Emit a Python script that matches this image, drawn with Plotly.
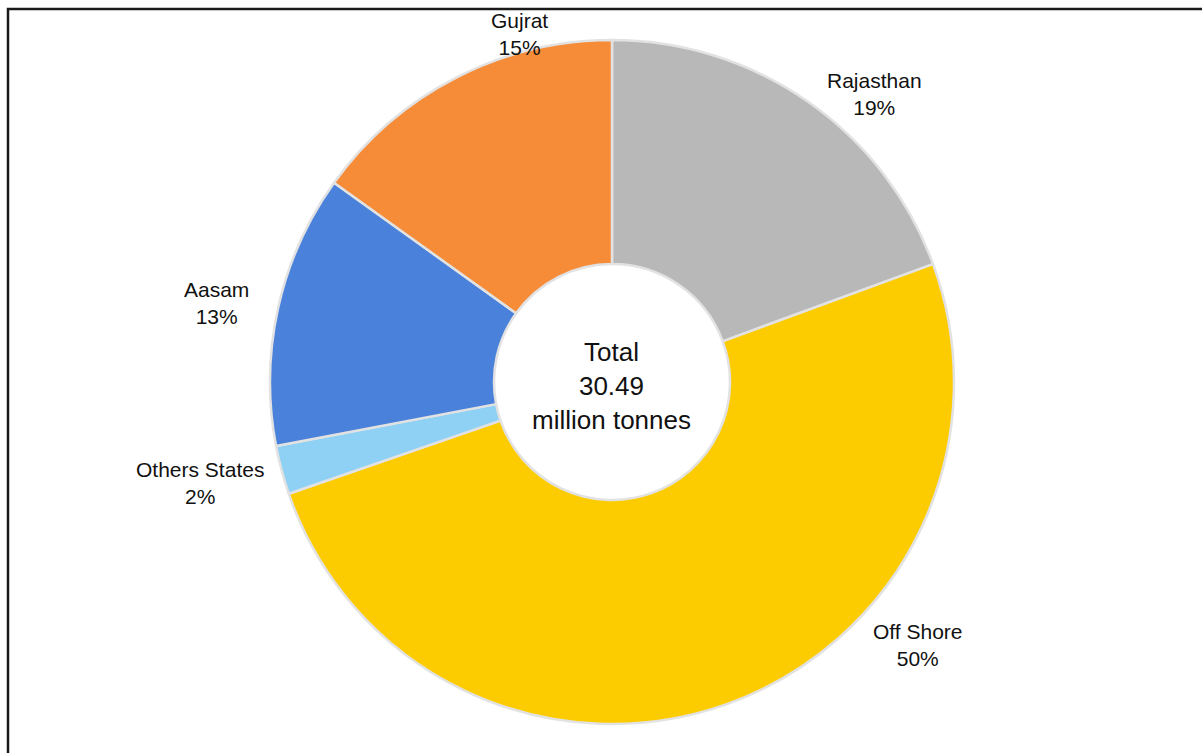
import plotly.graph_objects as go

# ---- data ----
regions = ["Rajasthan", "Off Shore", "Others States", "Aasam", "Gujrat"]
shares = [19.4, 50.3, 2.3, 12.9, 15.1]          # percent of total production
total_production = 30.49                          # million tonnes
colors = ["#b8b8b8", "#fdcc00", "#8ed1f5", "#4a81da", "#f68b38"]

# label placement (pixels in the 1202x753 canvas, centre of text block)
label_pos = [(874, 94), (918, 645), (200, 483), (216, 303), (519, 34)]

W, H = 1202, 753
cx, cy, r = 612, 382, 342


def px(x, y):
    return x / W, 1 - y / H


fig = go.Figure()
fig.add_trace(go.Pie(
    labels=regions,
    values=shares,
    sort=False,
    direction="clockwise",
    rotation=0,
    hole=0.345,
    marker=dict(colors=colors, line=dict(color="#e2e2e2", width=2.5)),
    textinfo="none",
    hoverinfo="label+percent",
    showlegend=False,
    domain=dict(x=[(cx - r) / W, (cx + r) / W], y=[1 - (cy + r) / H, 1 - (cy - r) / H]),
))

tot = sum(shares)
for name, v, (x, y) in zip(regions, shares, label_pos):
    ax, ay = px(x, y)
    fig.add_annotation(
        x=ax, y=ay, xref="paper", yref="paper",
        text=f"{name}<br>{round(v / tot * 100)}%",
        showarrow=False, xanchor="center", yanchor="middle",
        font=dict(family="Liberation Sans, Arial, sans-serif", size=21, color="#111111"),
    )

hx, hy = px(611, 386)
fig.add_annotation(
    x=hx, y=hy, xref="paper", yref="paper",
    text=f"Total<br>{total_production:.2f}<br>million tonnes",
    showarrow=False, xanchor="center", yanchor="middle",
    font=dict(family="Liberation Sans, Arial, sans-serif", size=26, color="#111111"),
)

# outer frame (top and left edges visible)
fig.add_shape(type="rect", xref="paper", yref="paper",
              x0=8 / W, y0=-0.02, x1=1.02, y1=1 - 9 / H,
              line=dict(color="#1a1a1a", width=2.5), fillcolor="rgba(0,0,0,0)")

fig.update_layout(
    width=W, height=H,
    margin=dict(l=0, r=0, t=0, b=0),
    paper_bgcolor="white",
    plot_bgcolor="white",
)

fig.write_html("out.html")
